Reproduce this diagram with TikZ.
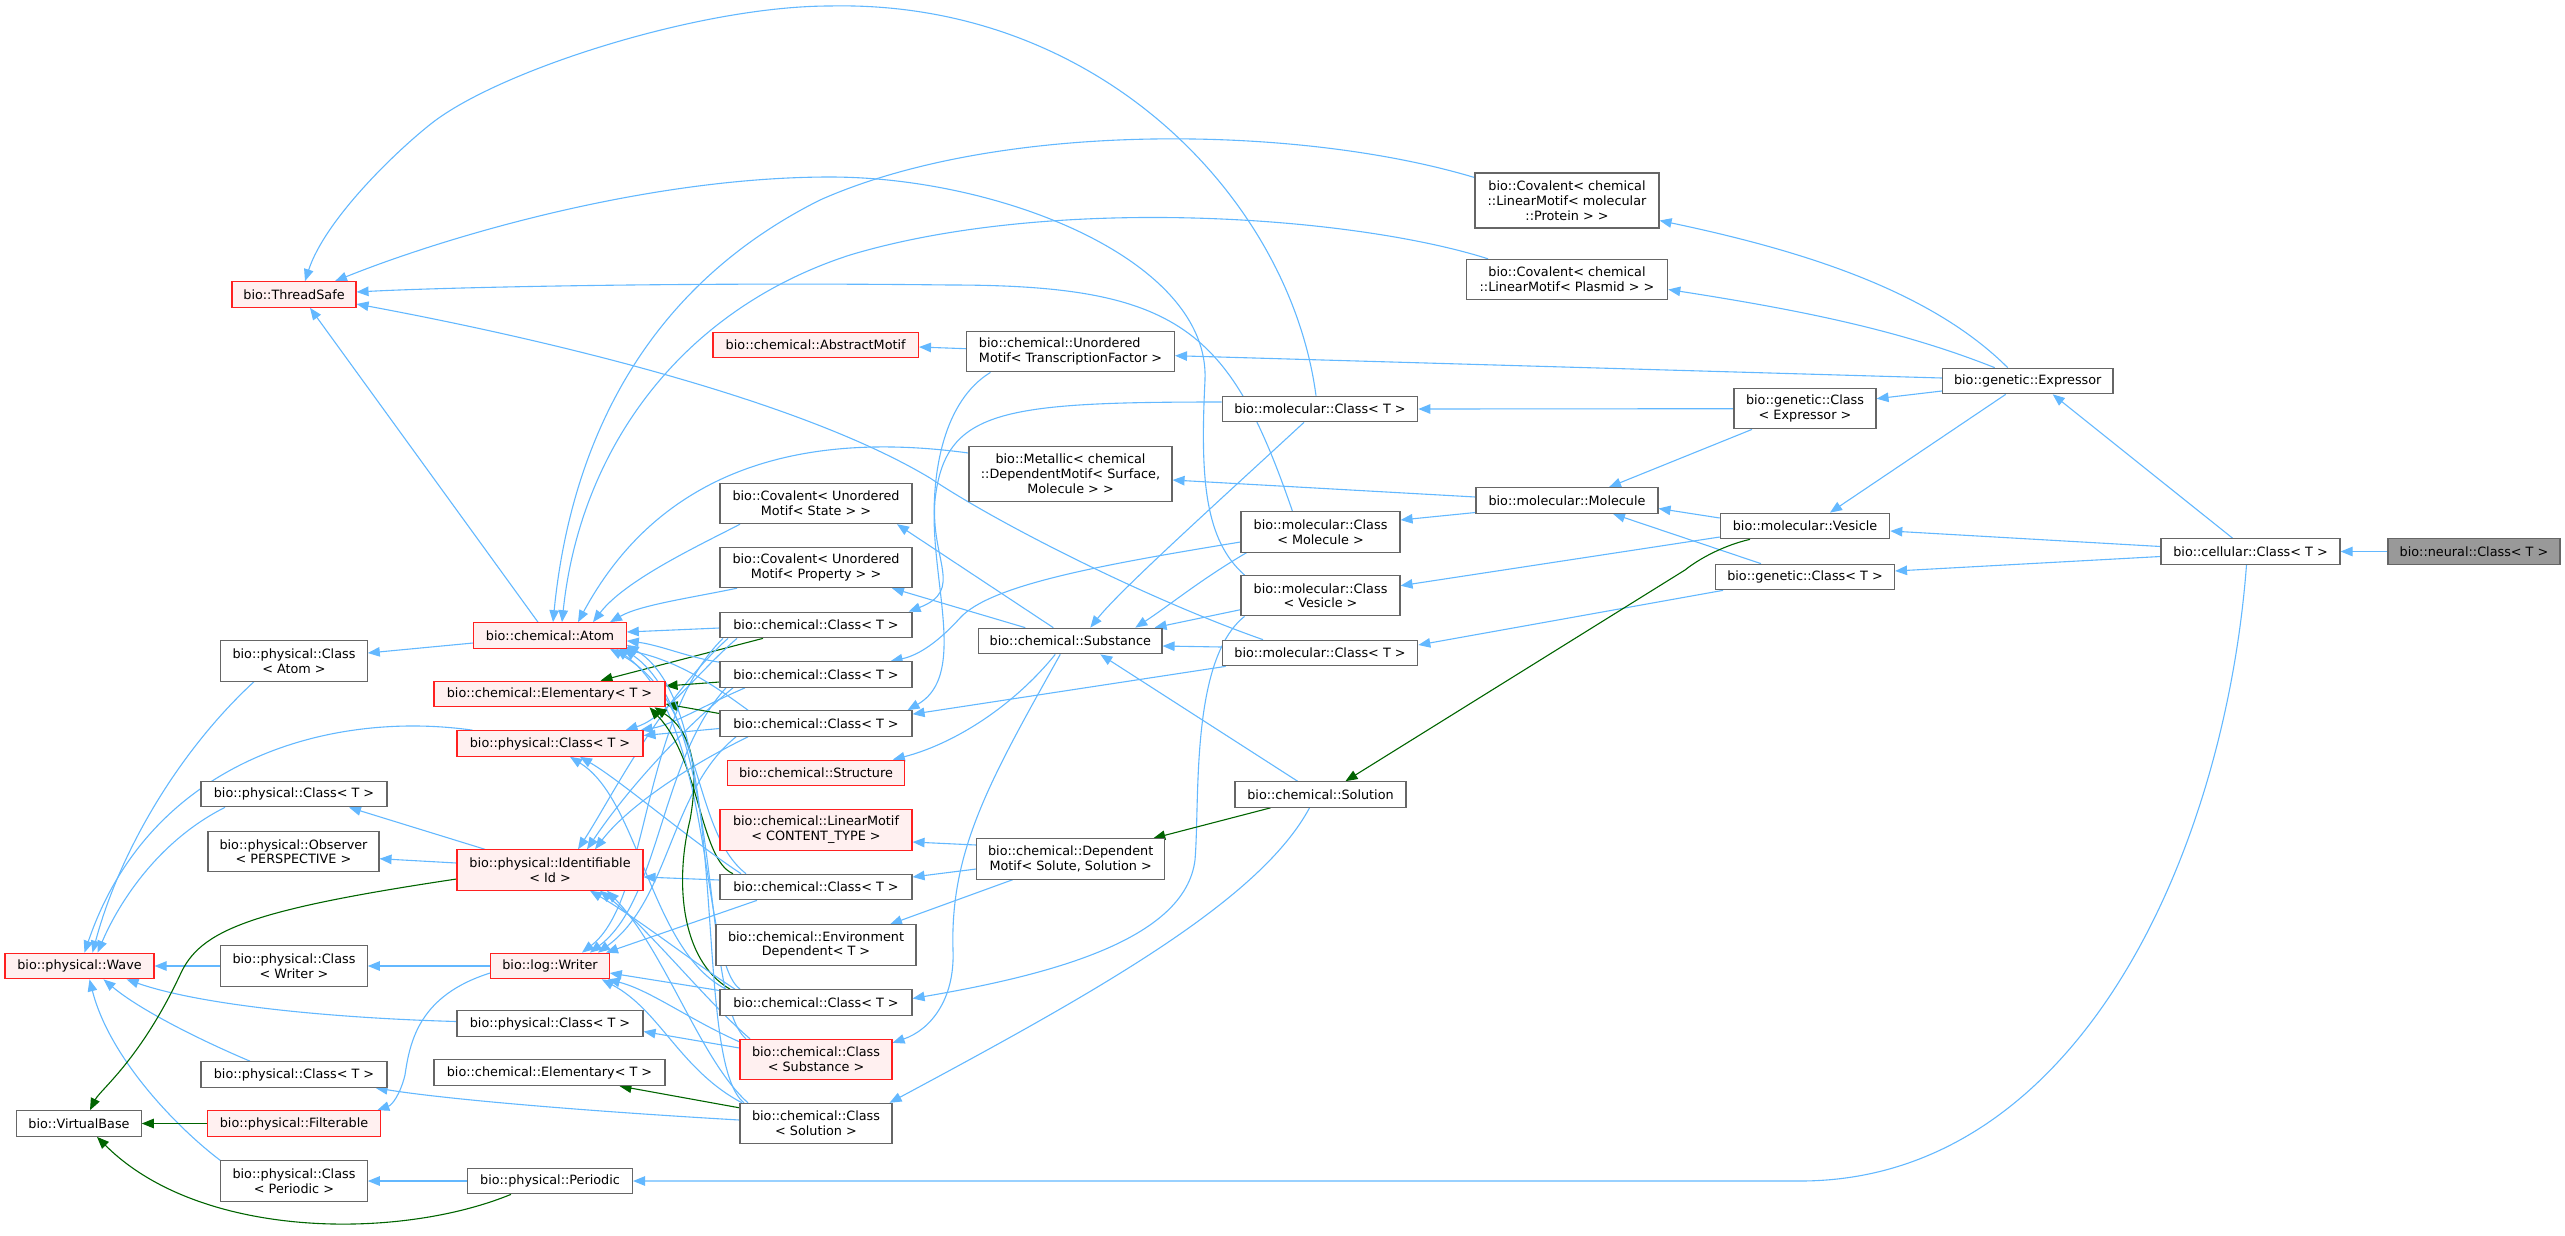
\documentclass[tikz,border=0pt]{standalone}
\usepackage{fontspec}
\setmainfont{DejaVu Sans}
\usetikzlibrary{arrows.meta}
\pgfdeclarelayer{background}
\pgfsetlayers{background,main}
\definecolor{edgeblue}{HTML}{63B8FF}
\definecolor{edgegreen}{HTML}{006400}
\definecolor{boxgray}{HTML}{666666}
\definecolor{redfill}{HTML}{FFF0F0}
\definecolor{redline}{HTML}{FF2020}
\definecolor{neuralfill}{HTML}{999999}
\newcommand\dxfont{\fontsize{12.8}{14.8}\selectfont}
\tikzset{
  box/.style={draw=boxgray, fill=white, line width=1.1pt, inner sep=0pt, align=center, font=\dxfont, text=black},
  redbox/.style={box, draw=redline, fill=redfill},
  h1/.style={minimum height=25.6pt},
  h2/.style={minimum height=40.3pt},
  h3/.style={minimum height=55pt},
  eb/.style={draw=edgeblue, line width=1.1pt, -{Triangle[length=12pt,width=9.5pt]}},
  eg/.style={eb, draw=edgegreen}
}
\begin{document}
\begin{tikzpicture}[x=1pt,y=-1pt]
\useasboundingbox (0,0) rectangle (2565,1235);
% nodes
\node[redbox,h1,minimum width=124pt] (threadsafe) at (294,294.5) {bio::ThreadSafe};
\node[redbox,h1,minimum width=205.5pt] (abstractMotif) at (815.7,345) {bio::chemical::AbstractMotif};
\node[box,h2,minimum width=208pt,align=left] (unorderedTF) at (1070.5,351.7) {bio::chemical::Unordered\\Motif< TranscriptionFactor >};
\node[box,h3,minimum width=184pt] (covProtein) at (1567,200.5) {bio::Covalent< chemical\\::LinearMotif< molecular\\::Protein > >};
\node[box,h2,minimum width=201.5pt] (covPlasmid) at (1567,279.5) {bio::Covalent< chemical\\::LinearMotif< Plasmid > >};
\node[box,h1,minimum width=170.6pt] (expr) at (2027.7,381) {bio::genetic::Expressor};
\node[box,h2,minimum width=142pt] (genCE) at (1805,408.7) {bio::genetic::Class\\< Expressor >};
\node[box,h1,minimum width=195.5pt] (molClass1) at (1320,409) {bio::molecular::Class< T >};
\node[box,h3,minimum width=203pt] (metallic) at (1070.5,474) {bio::Metallic< chemical\\::DependentMotif< Surface,\\Molecule > >};
\node[box,h1,minimum width=182pt] (molecule) at (1567,500.5) {bio::molecular::Molecule};
\node[box,h1,minimum width=169.5pt] (vesicle) at (1805,526) {bio::molecular::Vesicle};
\node[box,h2,minimum width=192pt] (covState) at (816,503.5) {bio::Covalent< Unordered\\Motif< State > >};
\node[box,h2,minimum width=159pt] (molClassMol) at (1320.5,532) {bio::molecular::Class\\< Molecule >};
\node[box,h1,minimum width=179pt] (cell) at (2250.5,551.5) {bio::cellular::Class< T >};
\node[box,h1,minimum width=172pt,fill=neuralfill] (neural) at (2474,551.5) {bio::neural::Class< T >};
\node[box,h2,minimum width=192pt] (covProperty) at (816,567.5) {bio::Covalent< Unordered\\Motif< Property > >};
\node[box,h1,minimum width=179pt] (genCT) at (1805,577) {bio::genetic::Class< T >};
\node[box,h2,minimum width=159pt] (molClassVes) at (1320.5,595.7) {bio::molecular::Class\\< Vesicle >};
\node[box,h1,minimum width=192pt] (chemA) at (816,625) {bio::chemical::Class< T >};
\node[redbox,h1,minimum width=152.5pt] (atom) at (550,635.5) {bio::chemical::Atom};
\node[box,h1,minimum width=183.4pt] (substance) at (1070.3,641) {bio::chemical::Substance};
\node[box,h2,minimum width=146.5pt] (classAtom) at (294,661) {bio::physical::Class\\< Atom >};
\node[box,h1,minimum width=195.5pt] (molClass2) at (1320,653) {bio::molecular::Class< T >};
\node[box,h1,minimum width=192pt] (chemB) at (816,674.5) {bio::chemical::Class< T >};
\node[redbox,h1,minimum width=231pt] (elemRed) at (549.5,694) {bio::chemical::Elementary< T >};
\node[box,h1,minimum width=192pt] (chemC) at (816,723.5) {bio::chemical::Class< T >};
\node[redbox,h1,minimum width=186pt] (physClassRed) at (550,743.5) {bio::physical::Class< T >};
\node[redbox,h1,minimum width=176.5pt] (structure) at (816,773) {bio::chemical::Structure};
\node[box,h1,minimum width=186pt] (physClass1) at (294,794) {bio::physical::Class< T >};
\node[box,h1,minimum width=171pt] (solution) at (1320.5,794.5) {bio::chemical::Solution};
\node[redbox,h2,minimum width=192pt] (linearMotif) at (816,830) {bio::chemical::LinearMotif\\< CONTENT\_TYPE >};
\node[box,h2,minimum width=171pt] (observer) at (293.5,851.7) {bio::physical::Observer\\< PERSPECTIVE >};
\node[box,h2,minimum width=188pt] (depMotif) at (1070.7,859) {bio::chemical::Dependent\\Motif< Solute, Solution >};
\node[redbox,h2,minimum width=186pt] (identifiable) at (550,870) {bio::physical::Identifiable\\< Id >};
\node[box,h1,minimum width=192pt] (chemD) at (816,887) {bio::chemical::Class< T >};
\node[box,h2,minimum width=200pt] (envDep) at (816,945) {bio::chemical::Environment\\Dependent< T >};
\node[redbox,h1,minimum width=149pt] (wave) at (79.5,966) {bio::physical::Wave};
\node[box,h2,minimum width=146.5pt] (classWriter) at (294,966) {bio::physical::Class\\< Writer >};
\node[redbox,h1,minimum width=118.5pt] (writer) at (550,966) {bio::log::Writer};
\node[box,h1,minimum width=192pt] (chemE) at (816,1002.5) {bio::chemical::Class< T >};
\node[box,h1,minimum width=186pt] (physClass2) at (550,1023.5) {bio::physical::Class< T >};
\node[redbox,h2,minimum width=152pt] (classSubstance) at (816,1059.5) {bio::chemical::Class\\< Substance >};
\node[box,h1,minimum width=186pt] (physClass3) at (294,1074.5) {bio::physical::Class< T >};
\node[box,h1,minimum width=231pt] (elemWhite) at (549.5,1072.7) {bio::chemical::Elementary< T >};
\node[box,h2,minimum width=152pt] (classSolution) at (816,1123.5) {bio::chemical::Class\\< Solution >};
\node[box,h1,minimum width=124.5pt] (virtualbase) at (79,1123.5) {bio::VirtualBase};
\node[redbox,h1,minimum width=173.5pt] (filterable) at (294,1123.5) {bio::physical::Filterable};
\node[box,h2,minimum width=146.5pt] (classPeriodic) at (294,1181) {bio::physical::Class\\< Periodic >};
\node[box,h1,minimum width=165pt] (periodic) at (550,1181) {bio::physical::Periodic};

\begin{pgfonlayer}{background}
% right part
\draw[eb] (neural.west) -- (cell.east);
\draw[eb] ([xshift=-18pt]cell.north) -- ([xshift=25pt]expr.south);
\draw[eb] ([yshift=5pt]cell.west) -- ([yshift=-5pt]vesicle.east);
\draw[eb] ([yshift=-5pt]cell.west) -- ([yshift=6pt]genCT.east);
\draw[eb] ([xshift=-4pt]cell.south) .. controls (2225,850) and (2080,1181) .. (1800,1181) -- (periodic.east);
\draw[eb] ([xshift=-20pt]expr.north) .. controls (1930,290) and (1800,250) .. ([yshift=-20pt]covProtein.east);
\draw[eb] ([xshift=-33pt]expr.north) .. controls (1900,330) and (1800,310) .. ([yshift=-10pt]covPlasmid.east);
\draw[eb] ([yshift=3pt]expr.west) -- ([yshift=-4pt]unorderedTF.east);
\draw[eb] ([yshift=-10pt]expr.west) -- ([yshift=10pt]genCE.east);
\draw[eb] ([xshift=-22pt]expr.south) -- ([xshift=25pt]vesicle.north);
\draw[eb] (genCE.west) -- (molClass1.east);
\draw[eb] ([xshift=-53pt]genCE.south) -- ([xshift=42pt]molecule.north);
\draw[eb] ([xshift=-44pt]genCT.north) -- ([xshift=46pt]molecule.south);
\draw[eb] ([xshift=-82pt]genCT.south) -- ([yshift=8pt]molClass2.east);
\draw[eb] ([yshift=8pt]vesicle.west) -- ([yshift=-8pt]molecule.east);
\draw[eb] ([yshift=-11pt]vesicle.west) -- ([yshift=10pt]molClassVes.east);
\draw[eg] ([xshift=-55pt]vesicle.south) .. controls (1725,545) and (1700,558) .. (1685,570) -- ([xshift=25pt]solution.north);
\draw[eb] ([yshift=3.5pt]molecule.west) -- ([yshift=-6pt]metallic.east);
\draw[eb] ([yshift=-12pt]molecule.west) -- ([yshift=12pt]molClassMol.east);
% molecular classes
\draw[eb] ([xshift=-4pt]molClass1.north) .. controls (1290,200) and (1100,0) .. (830,6) .. controls (700,6) and (500,70) .. (432,123) .. controls (395,152) and (325,220) .. ([xshift=11pt]threadsafe.north);
\draw[eb] ([xshift=-16pt]molClass1.south) .. controls (1220,500) and (1120,590) .. ([xshift=20pt]substance.north);
\draw[eb] ([yshift=7pt]molClass1.west) .. controls (1000,402) and (945,410) .. (935,500) .. controls (930,560) and (965,590) .. ([xshift=-4pt]chemA.north east);
\draw[eb] ([xshift=-28pt]molClassMol.north) .. controls (1230,330) and (1180,285) .. (950,285) .. controls (700,282) and (450,287) .. ([yshift=2.5pt]threadsafe.east);
\draw[eb] ([xshift=-74pt]molClassMol.south) .. controls (1200,580) and (1170,605) .. ([xshift=65pt]substance.north);
\draw[eb] ([yshift=-10pt]molClassMol.west) .. controls (1100,565) and (990,585) .. (960,618) .. controls (940,640) and (920,655) .. ([xshift=-22pt]chemB.north east);
\draw[eb] ([xshift=-76pt]molClassVes.north) .. controls (1205,540) and (1200,480) .. (1205,380) .. controls (1210,260) and (1000,177) .. (830,177) .. controls (650,177) and (450,235) .. ([xshift=41pt]threadsafe.north);
\draw[eb] ([yshift=-14pt]molClassVes.west) -- ([xshift=-8pt]substance.north east);
\draw[eb] ([xshift=-76pt]molClassVes.south) .. controls (1190,660) and (1200,800) .. (1195,860) .. controls (1185,940) and (1050,975) .. ([yshift=4pt]chemE.east);
\draw[eb] ([xshift=-57pt]molClass2.north) .. controls (1150,600) and (1000,525) .. (930,478) .. controls (800,400) and (550,340) .. ([yshift=-9.5pt]threadsafe.east);
\draw[eb] ([yshift=6pt]molClass2.west) -- ([yshift=-5pt]substance.east);
\draw[eb] ([xshift=4pt]molClass2.south west) -- ([yshift=-4pt]chemC.north east);
\draw[eb] ([yshift=3pt]unorderedTF.west) -- ([yshift=-2pt]abstractMotif.east);
\draw[eb] ([xshift=-80pt]unorderedTF.south) .. controls (945,400) and (930,470) .. (935,540) .. controls (940,610) and (960,680) .. ([xshift=-5pt]chemC.north east);
% to Atom from above
\draw[eb] ([yshift=23pt]covProtein.west) .. controls (1300,125) and (1000,120) .. (820,200) .. controls (640,290) and (570,450) .. ([xshift=3pt]atom.north);
\draw[eb] ([xshift=-79pt]covPlasmid.north) .. controls (1350,215) and (1050,195) .. (850,255) .. controls (680,310) and (580,450) .. ([xshift=12pt]atom.north);
\draw[eb] ([yshift=21pt]metallic.west) .. controls (800,430) and (660,470) .. ([xshift=28pt]atom.north);
\draw[eb] ([xshift=-76pt]covState.south) .. controls (700,545) and (625,580) .. ([xshift=43pt]atom.north);
\draw[eb] ([xshift=-79pt]covProperty.south) .. controls (690,598) and (640,605) .. ([xshift=60pt]atom.north);
% substance, solution, dependent motif
\draw[eb] ([xshift=-17pt]substance.north) -- ([xshift=81pt]covState.south);
\draw[eb] ([xshift=-45pt]substance.north) -- ([xshift=76pt]covProperty.south);
\draw[eb] ([xshift=-15pt]substance.south) .. controls (1010,710) and (950,745) .. ([xshift=-12pt]structure.north east);
\draw[eb] ([xshift=-10pt]substance.south) .. controls (990,780) and (950,850) .. (953,950) .. controls (955,1000) and (930,1030) .. ([yshift=-4pt]classSubstance.north east);
\draw[eb] ([xshift=-23pt]solution.north) -- ([xshift=30pt]substance.south);
\draw[eg] ([xshift=-50pt]solution.south) -- ([xshift=-12pt]depMotif.north east);
\draw[eb] ([xshift=-11pt]solution.south) .. controls (1260,900) and (1100,990) .. ([xshift=-3pt]classSolution.north east);
\draw[eb] ([yshift=14pt]depMotif.west) -- ([yshift=-12pt]linearMotif.east);
\draw[eb] ([yshift=-10pt]depMotif.west) -- ([yshift=10pt]chemD.east);
\draw[eb] ([xshift=-58pt]depMotif.south) -- ([xshift=74pt]envDep.north);
% left part
\draw[eb] ([xshift=-12pt]atom.north) -- ([xshift=16pt]threadsafe.south);
\draw[eb] ([yshift=-7.5pt]atom.west) -- ([yshift=8pt]classAtom.east);
\draw[eb] ([xshift=-40pt]classAtom.south) .. controls (180,750) and (120,850) .. ([xshift=13pt]wave.north);
\draw[eb] ([xshift=16pt]physClassRed.north west) .. controls (330,710) and (150,760) .. ([xshift=5pt]wave.north);
\draw[eb] ([xshift=-69pt]physClass1.south) .. controls (160,840) and (120,900) .. ([xshift=18pt]wave.north);
\draw[eb] (classWriter.west) -- (wave.east);
\draw[eb] ([yshift=2pt]physClass2.west) .. controls (330,1018) and (200,1005) .. ([xshift=-28pt]wave.south east);
\draw[eb] ([xshift=-44pt]physClass3.north) .. controls (200,1040) and (140,1010) .. ([xshift=24pt]wave.south);
\draw[eb] (classPeriodic.north west) .. controls (180,1130) and (110,1060) .. ([xshift=10pt]wave.south);
\draw[eb] ([xshift=-65pt]identifiable.north) -- ([xshift=55pt]physClass1.south);
\draw[eb] ([yshift=7pt]identifiable.west) -- ([yshift=-7pt]observer.east);
\draw[eg] ([yshift=-9pt]identifiable.west) .. controls (250,910) and (200,930) .. (180,975) .. controls (140,1060) and (100,1090) .. ([xshift=11pt]virtualbase.north);
\draw[eb] (writer.west) -- (classWriter.east);
\draw[eb] ([yshift=-7pt]writer.west) .. controls (420,995) and (410,1040) .. (405,1075) .. controls (400,1095) and (392,1105) .. ([xshift=-4pt]filterable.north east);
\draw[eg] (filterable.west) -- (virtualbase.east);
\draw[eg] ([xshift=-39pt]periodic.south) .. controls (400,1240) and (200,1240) .. ([xshift=18pt]virtualbase.south);
\draw[eb] (periodic.west) -- (classPeriodic.east);
% chemical::Class A
\draw[eb] ([yshift=-3pt]chemA.west) -- ([yshift=3.5pt]atom.east);
\draw[eg] ([xshift=-53pt]chemA.south) -- ([xshift=51pt]elemRed.north);
\draw[eb] ([xshift=-79pt]chemA.south) .. controls (695,675) and (665,718) .. ([xshift=-18pt]physClassRed.north east);
\draw[eb] ([xshift=-88pt]chemA.south) .. controls (660,700) and (610,800) .. ([xshift=28pt]identifiable.north);
\draw[eb] ([xshift=-93pt]chemA.south) .. controls (640,720) and (650,900) .. ([xshift=32pt]writer.north);
% B
\draw[eb] ([yshift=-1pt]chemB.north west) .. controls (690,658) and (660,645) .. ([yshift=8pt]atom.south east);
\draw[eg] ([yshift=-7.5pt]chemB.west) -- ([yshift=8pt]elemRed.east);
\draw[eb] ([xshift=-71pt]chemB.south) .. controls (705,705) and (672,725) .. ([xshift=-3pt]physClassRed.north east);
\draw[eb] ([xshift=-83pt]chemB.south) .. controls (670,740) and (620,800) .. ([xshift=37pt]identifiable.north);
\draw[eb] ([xshift=-90pt]chemB.south) .. controls (660,760) and (660,900) .. ([xshift=40pt]writer.north);
% C
\draw[eb] ([xshift=-68pt]chemC.north) .. controls (720,690) and (680,660) .. ([xshift=-8pt]atom.south east);
\draw[eg] ([yshift=10pt]chemC.west) -- ([yshift=-10pt]elemRed.east);
\draw[eb] ([yshift=-5pt]chemC.west) -- ([yshift=8pt]physClassRed.east);
\draw[eb] ([xshift=-68pt]chemC.south) .. controls (680,770) and (625,810) .. ([xshift=45pt]identifiable.north);
\draw[eb] ([xshift=-80pt]chemC.south) .. controls (670,790) and (670,900) .. ([xshift=48pt]writer.north);
% D
\draw[eb] ([xshift=-70pt]chemD.north) .. controls (690,830) and (705,700) .. ([xshift=60pt]atom.south);
\draw[eg] ([xshift=-83pt]chemD.north) .. controls (700,860) and (700,760) .. ([xshift=100pt]elemRed.south);
\draw[eb] ([xshift=-75pt]chemD.north) .. controls (690,840) and (620,780) .. ([xshift=30pt]physClassRed.south);
\draw[eb] ([yshift=7pt]chemD.west) -- ([yshift=-7pt]identifiable.east);
\draw[eb] ([xshift=-59pt]chemD.south) -- ([xshift=56pt]writer.north);
% E
\draw[eb] ([xshift=-76pt]chemE.north) .. controls (700,960) and (715,720) .. ([xshift=66pt]atom.south);
\draw[eg] ([xshift=-86pt]chemE.north) .. controls (680,960) and (675,880) .. (690,820) .. controls (700,765) and (690,730) .. ([xshift=105pt]elemRed.south);
\draw[eb] ([xshift=-90pt]chemE.north) .. controls (650,950) and (640,800) .. ([xshift=20pt]physClassRed.south);
\draw[eb] ([xshift=-81pt]chemE.north) .. controls (690,960) and (640,920) .. ([xshift=40pt]identifiable.south);
\draw[eb] ([yshift=12pt]chemE.west) -- ([yshift=-7pt]writer.east);
% Class<Substance>
\draw[eb] ([xshift=-70pt]classSubstance.north) .. controls (700,1000) and (725,720) .. ([xshift=-3pt]atom.south east);
\draw[eb] ([xshift=-66pt]classSubstance.north) .. controls (705,1000) and (650,930) .. ([xshift=50pt]identifiable.south);
\draw[eb] ([yshift=-3pt]classSubstance.north west) .. controls (690,1020) and (650,990) .. ([xshift=-2pt]writer.south east);
\draw[eb] ([yshift=11.5pt]classSubstance.west) -- ([yshift=-8pt]physClass2.east);
% Class<Solution>
\draw[eb] ([xshift=-72pt]classSolution.north) .. controls (690,1060) and (735,710) .. ([yshift=4pt]atom.south east);
\draw[eb] ([xshift=-68pt]classSolution.north) .. controls (700,1060) and (665,950) .. ([xshift=57pt]identifiable.south);
\draw[eb] ([xshift=-74pt]classSolution.north) .. controls (680,1070) and (660,1010) .. ([xshift=-8pt]writer.south east);
\draw[eb] ([yshift=3.5pt]classSolution.west) .. controls (600,1112) and (450,1100) .. ([xshift=-12pt]physClass3.south east);
\draw[eg] ([yshift=-5pt]classSolution.north west) -- ([xshift=70pt]elemWhite.south);
\end{pgfonlayer}
\end{tikzpicture}
\end{document}
